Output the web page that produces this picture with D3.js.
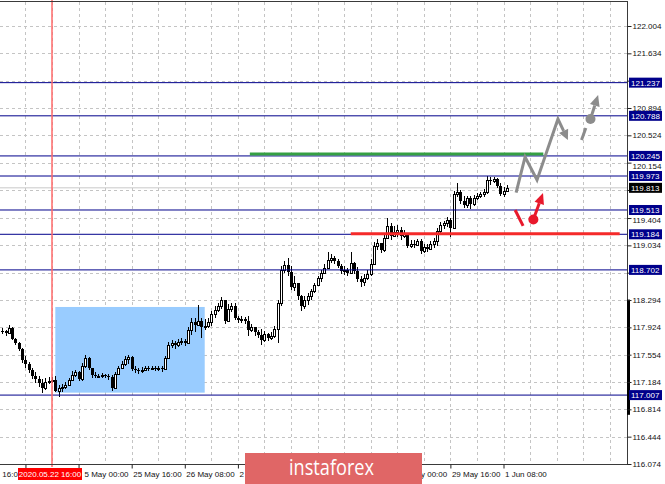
<!DOCTYPE html>
<html><head><meta charset="utf-8">
<script src="https://cdn.jsdelivr.net/npm/d3@7"></script>
<style>body{margin:0;background:#fff;overflow:hidden}svg{display:block;font-family:"Liberation Sans",Arial,sans-serif}</style>
</head><body><svg id="c" width="665" height="484"></svg>
<script>
// ---------- DATA ----------
const firstIndex = -15;          // candle index of first bar (0 = 2020.05.22 16:00, H1 bars)
const firstOpen = 117.88;
const closes = [
117.87,117.85,117.92,117.77,117.71,117.63,117.48,117.43,117.35,117.27,
117.23,117.17,117.10,117.18,117.20,117.21,117.06,117.10,117.12,117.14,
117.21,117.28,117.32,117.23,117.40,117.51,117.37,117.28,117.27,117.27,
117.28,117.27,117.25,117.10,117.29,117.37,117.43,117.50,117.52,117.36,
117.35,117.33,117.35,117.37,117.36,117.37,117.36,117.37,117.36,117.51,
117.69,117.71,117.69,117.73,117.74,117.71,117.89,118.00,117.96,118.01,
117.93,117.94,118.00,118.11,118.16,118.21,118.29,118.01,118.17,118.21,
118.05,118.02,118.04,118.01,117.89,117.93,117.86,117.82,117.75,117.83,
117.78,117.81,117.90,118.25,118.70,118.77,118.67,118.47,118.52,118.35,
118.21,118.29,118.35,118.42,118.50,118.59,118.66,118.73,118.84,118.86,
118.82,118.76,118.69,118.70,118.66,118.80,118.69,118.58,118.54,118.59,
118.65,118.78,119.03,119.07,118.97,119.13,119.30,119.16,119.22,119.24,
119.16,119.20,119.03,119.05,119.04,119.09,118.96,119.01,118.99,119.05,
119.09,119.23,119.31,119.34,119.38,119.27,119.73,119.76,119.63,119.58,
119.68,119.59,119.68,119.70,119.73,119.76,119.92,119.91,119.93,119.84,
119.73,119.77,119.81];
const highs = [
117.92,117.89,117.96,117.93,117.78,117.73,117.65,117.54,117.46,117.37,
117.32,117.27,117.23,117.24,117.25,117.25,117.27,117.14,117.16,117.19,
117.24,117.33,117.35,117.33,117.44,117.55,117.52,117.35,117.32,117.29,
117.31,117.29,117.29,117.28,117.32,117.40,117.47,117.54,117.55,117.54,
117.40,117.37,117.39,117.40,117.40,117.40,117.40,117.40,117.40,117.54,
117.73,117.75,117.74,117.77,117.78,117.77,117.93,118.05,118.05,118.23,
118.05,118.04,118.05,118.15,118.21,118.26,118.34,118.27,118.24,118.26,
118.26,118.08,118.08,118.07,118.08,117.97,117.93,117.89,117.90,117.87,
117.85,117.86,117.94,118.29,118.76,118.82,118.86,118.76,118.62,118.48,
118.36,118.35,118.39,118.44,118.53,118.62,118.70,118.78,118.95,118.92,
118.89,118.85,118.78,118.76,118.73,118.95,118.81,118.74,118.62,118.65,
118.70,118.85,119.08,119.12,119.05,119.17,119.41,119.34,119.30,119.31,
119.28,119.24,119.19,119.11,119.11,119.12,119.12,119.05,119.05,119.09,
119.13,119.27,119.35,119.37,119.42,119.41,119.77,119.88,119.78,119.70,
119.70,119.70,119.72,119.74,119.76,119.80,119.97,119.96,119.96,119.95,
119.88,119.82,119.85];
const lows = [
117.83,117.81,117.86,117.75,117.69,117.60,117.44,117.37,117.31,117.23,
117.17,117.12,117.04,117.08,117.16,117.17,117.05,116.98,117.05,117.09,
117.13,117.20,117.25,117.20,117.20,117.37,117.35,117.24,117.24,117.24,
117.24,117.24,117.21,117.06,117.09,117.28,117.36,117.40,117.43,117.33,
117.31,117.29,117.31,117.33,117.33,117.35,117.33,117.33,117.32,117.35,
117.50,117.65,117.63,117.66,117.69,117.67,117.70,117.82,117.86,117.94,
117.78,117.89,117.92,117.94,118.05,118.13,118.17,117.97,118.00,118.13,
118.02,117.98,117.98,117.97,117.81,117.86,117.81,117.78,117.69,117.73,
117.74,117.75,117.78,117.71,118.21,118.66,118.62,118.43,118.42,118.29,
118.15,118.17,118.23,118.29,118.39,118.48,118.54,118.65,118.72,118.80,
118.78,118.73,118.65,118.63,118.62,118.65,118.65,118.54,118.47,118.48,
118.57,118.62,118.77,118.97,118.93,118.95,119.13,119.11,119.16,119.15,
119.11,119.13,119.00,119.00,119.00,119.03,118.92,118.93,118.95,118.97,
119.00,119.03,119.20,119.26,119.28,119.15,119.26,119.69,119.59,119.54,
119.54,119.53,119.57,119.65,119.68,119.69,119.73,119.85,119.88,119.81,
119.70,119.69,119.78];

const timeTicks  = [-24,-8,8,24,40,56,72,88,104,120,136];
const timeLabels = ["21 May 16:00","22 May 08:00","25 May 00:00","25 May 16:00","26 May 08:00",
                    "27 May 00:00","27 May 16:00","28 May 08:00","29 May 00:00","29 May 16:00","1 Jun 08:00"];
const markerIndex = 0;
const markerLabel = "2020.05.22 16:00";

const priceTicks = [116.074,116.444,116.814,117.184,117.554,117.924,118.294,118.664,119.034,
                    119.404,119.784,120.154,120.524,120.894,121.264,121.634,122.004];
const levels = [121.237,120.788,120.245,119.973,119.513,119.184,118.702,117.007];
const bidPrice = 119.813;

const zone = [1, 46, 117.04, 118.20];          // [i0, i1, pLow, pHigh]
const greenLevel = [59.6, 148, 120.27];         // [i0, i1, price]
const redLevel = [90, 171, 119.19];
const grayZigzag = [[139.8,119.747],[142.5,120.231],[146.1,119.919],[152.4,120.745],[155.4,120.461]];
const grayDash = [[159.5,120.461],[160.8,120.623]];
const grayDot = [162.2,120.745];
const grayTip = [164.5,121.07];
const redDash = [[139.5,119.513],[141.9,119.297]];
const redDot = [145.0,119.385];
const redTip = [147.9,119.743];
const scaleBar = [118.30, 116.74];

// ---------- CHART ----------
const svg = d3.select("#c");
const plotR = 627, plotB = 464;
const x = d3.scaleLinear().domain([0,136]).range([52,503.5]);
const y = d3.scaleLinear().domain([116.074,122.004]).range([464,26]);

svg.append("rect").attr("width",665).attr("height",484).attr("fill","#fff");

// grid
const grid = svg.append("g").attr("stroke","#c4c4c4").attr("stroke-dasharray","3,3").attr("shape-rendering","crispEdges");
grid.selectAll("line.h").data(priceTicks).join("line").attr("class","h")
  .attr("x1",0).attr("x2",plotR).attr("y1",d=>Math.round(y(d))+0.5).attr("y2",d=>Math.round(y(d))+0.5);
grid.selectAll("line.v").data(d3.range(-16,176,8)).join("line").attr("class","v")
  .attr("x1",d=>Math.round(x(d))+0.5).attr("x2",d=>Math.round(x(d))+0.5).attr("y1",2).attr("y2",plotB);

// zone
svg.append("rect").attr("x",x(zone[0])).attr("width",x(zone[1])-x(zone[0]))
  .attr("y",y(zone[3])).attr("height",y(zone[2])-y(zone[3])).attr("fill","#99ccff");

// bid line
svg.append("line").attr("x1",0).attr("x2",plotR).attr("y1",y(bidPrice)).attr("y2",y(bidPrice))
  .attr("stroke","#c8c8c8").attr("stroke-width",1);

// candles
const candles = closes.map((c,k)=>{
  const o = k===0 ? firstOpen : closes[k-1];
  return {i:firstIndex+k, o, c, h:Math.max(highs[k],o,c), l:Math.min(lows[k],o,c)};
});
const cg = svg.append("g");
cg.selectAll("line").data(candles).join("line")
  .attr("x1",d=>Math.round(x(d.i))+0.5).attr("x2",d=>Math.round(x(d.i))+0.5)
  .attr("y1",d=>y(d.h)).attr("y2",d=>y(d.l)).attr("stroke","#000").attr("shape-rendering","crispEdges");
cg.selectAll("rect").data(candles).join("rect")
  .each(function(d){
    const cx = Math.round(x(d.i));
    const top = Math.round(y(Math.max(d.o,d.c))), bot = Math.round(y(Math.min(d.o,d.c)));
    const s = d3.select(this);
    if (d.c >= d.o) {
      s.attr("x",cx-0.5).attr("y",top+0.5).attr("width",2).attr("height",Math.max(bot-top,1))
       .attr("fill","#fff").attr("stroke","#000").attr("stroke-width",1);
    } else {
      s.attr("x",cx-1).attr("y",top).attr("width",3).attr("height",Math.max(bot-top,1)).attr("fill","#000");
    }
  });

// horizontal levels
svg.selectAll("line.lvl").data(levels).join("line").attr("class","lvl")
  .attr("x1",0).attr("x2",plotR).attr("y1",d=>y(d)).attr("y2",d=>y(d))
  .attr("stroke","#00008b").attr("stroke-width",1);

svg.append("line").attr("x1",x(greenLevel[0])).attr("x2",x(greenLevel[1]))
  .attr("y1",y(greenLevel[2])).attr("y2",y(greenLevel[2])).attr("stroke","#35a043").attr("stroke-width",3);
svg.append("line").attr("x1",x(redLevel[0])).attr("x2",x(redLevel[1]))
  .attr("y1",y(redLevel[2])).attr("y2",y(redLevel[2])).attr("stroke","#f52a2a").attr("stroke-width",3);

// vertical marker
svg.append("line").attr("x1",x(markerIndex)).attr("x2",x(markerIndex)).attr("y1",0).attr("y2",plotB+3)
  .attr("stroke","#ff6a6a").attr("stroke-width",1.5);

// annotations
const P = p => [x(p[0]), y(p[1])];
function arrowHead(g, from, tip, color, len, half){
  const [x1,y1]=P(from), [x2,y2]=P(tip);
  const a = Math.atan2(y2-y1, x2-x1);
  const bx = x2 - len*Math.cos(a), by = y2 - len*Math.sin(a);
  const pts = [[x2,y2],[bx+half*Math.sin(a), by-half*Math.cos(a)],[bx-half*Math.sin(a), by+half*Math.cos(a)]];
  g.append("polygon").attr("points",pts.map(p=>p.join(",")).join(" ")).attr("fill",color);
  return [bx,by];
}
const ann = svg.append("g");
const gray = "#8c8c8c", red = "#e8192c";
{
  const pts = grayZigzag.map(P);
  const base = arrowHead(ann, grayZigzag[3], grayZigzag[4], gray, 10, 5);
  pts[pts.length-1] = base;
  ann.append("path").attr("d",d3.line()(pts)).attr("fill","none").attr("stroke",gray).attr("stroke-width",3).attr("stroke-linejoin","miter");
}
ann.append("path").attr("d",d3.line()(grayDash.map(P))).attr("stroke",gray).attr("stroke-width",3);
ann.append("circle").attr("cx",P(grayDot)[0]).attr("cy",P(grayDot)[1]).attr("r",5).attr("fill",gray);
{
  const base = arrowHead(ann, grayDot, grayTip, gray, 11, 5);
  ann.append("line").attr("x1",P(grayDot)[0]).attr("y1",P(grayDot)[1]).attr("x2",base[0]).attr("y2",base[1]).attr("stroke",gray).attr("stroke-width",3);
}
ann.append("path").attr("d",d3.line()(redDash.map(P))).attr("stroke",red).attr("stroke-width",3);
ann.append("circle").attr("cx",P(redDot)[0]).attr("cy",P(redDot)[1]).attr("r",5).attr("fill",red);
{
  const base = arrowHead(ann, redDot, redTip, red, 11, 5);
  ann.append("line").attr("x1",P(redDot)[0]).attr("y1",P(redDot)[1]).attr("x2",base[0]).attr("y2",base[1]).attr("stroke",red).attr("stroke-width",3);
}

// frame
const frame = svg.append("g").attr("stroke","#3a3a3a").attr("shape-rendering","crispEdges");
frame.append("line").attr("x1",0).attr("x2",plotR+0.5).attr("y1",1.5).attr("y2",1.5);
frame.append("line").attr("x1",plotR+0.5).attr("x2",plotR+0.5).attr("y1",1).attr("y2",plotB+0.5);
frame.append("line").attr("x1",0).attr("x2",plotR+0.5).attr("y1",plotB+0.5).attr("y2",plotB+0.5);
svg.append("rect").attr("x",plotR).attr("width",3).attr("y",y(scaleBar[0])).attr("height",y(scaleBar[1])-y(scaleBar[0])).attr("fill","#000");

// level label set (used to hide/nudge price ticks that sit underneath a label box)
const allLabels = levels.map(v=>({v,bg:"#00008b"})).concat([{v:bidPrice,bg:"#000"}]);

// right axis
const yAxis = d3.axisRight(y).tickValues(priceTicks).tickFormat(d3.format(".3f")).tickSize(4).tickSizeOuter(0);
const ya = svg.append("g").attr("transform",`translate(${plotR+0.5},0)`).call(yAxis);
ya.select(".domain").remove();
ya.selectAll("line").attr("stroke","#222");
ya.selectAll("text").attr("x",5).attr("font-size","8px").attr("font-family","Liberation Sans, Arial").attr("fill","#111");
ya.selectAll(".tick text").filter(d => allLabels.some(l => Math.abs(y(l.v)-y(d)) < 5)).remove();
ya.selectAll(".tick text").each(function(d){
  let shift = 0;
  allLabels.forEach(l => {
    const diff = y(d) - y(l.v);
    if (diff > 0 && diff < 9.6) shift = Math.max(shift, 9.6 - diff);
  });
  if (shift) d3.select(this).attr("y", shift);
});

// bottom axis
const xAxis = d3.axisBottom(x).tickValues(timeTicks).tickFormat((d,k)=>timeLabels[k]).tickSize(4).tickSizeOuter(0);
const xa = svg.append("g").attr("transform",`translate(0,${plotB+0.5})`).call(xAxis);
xa.select(".domain").remove();
xa.selectAll("line").attr("stroke","#222");
xa.selectAll("text").attr("text-anchor","start").attr("x",1).attr("y",7).attr("font-size","8px")
  .attr("font-family","Liberation Sans, Arial").attr("fill","#111");

// level labels
const lab = svg.append("g");
lab.selectAll("rect").data(allLabels).join("rect")
  .attr("x",plotR+2).attr("y",d=>y(d.v)-5).attr("width",33).attr("height",10).attr("fill",d=>d.bg);
lab.selectAll("text").data(allLabels).join("text")
  .attr("x",plotR+4).attr("y",d=>y(d.v)+3).text(d=>d3.format(".3f")(d.v))
  .attr("font-size","8px").attr("fill","#fff");

// marker date label
const mx = x(markerIndex);
const markBox = [mx-34, mx+30];
svg.append("rect").attr("x",markBox[0]).attr("y",plotB+4).attr("width",markBox[1]-markBox[0]).attr("height",12).attr("fill","#ff0000");
svg.append("text").attr("x",(markBox[0]+markBox[1])/2).attr("y",plotB+13).attr("text-anchor","middle").text(markerLabel)
  .attr("font-size","8px").attr("fill","#fff");

// watermark
const wm = [245, 422];
svg.append("rect").attr("x",wm[0]).attr("y",453).attr("width",wm[1]-wm[0]).attr("height",31).attr("fill","#e06666");
svg.append("text").attr("x",289).attr("y",475).text("instaforex")
  .attr("font-family","Open Sans, sans-serif").attr("font-size","22px").attr("fill","#fff")
  .attr("textLength",85).attr("lengthAdjust","spacingAndGlyphs");

// time labels: keep only the part that is visible beside the date box / watermark / left edge
const obstacles = [[-1e9,0], markBox, wm];
xa.selectAll(".tick").each(function(d){
  const t = d3.select(this).select("text"), node = t.node(), full = node.textContent, n = full.length;
  const gx = x(d) + 1;
  const w = [0];
  for (let k=1;k<=n;k++) w.push(node.getSubStringLength(0,k));
  const vis = [];
  for (let k=0;k<n;k++){ const c = gx + (w[k]+w[k+1])/2; vis.push(obstacles.every(([a,b]) => c < a || c > b)); }
  let best = [0,-1], s = -1;
  for (let k=0;k<=n;k++){
    if (k<n && vis[k]) { if (s<0) s = k; }
    else if (s>=0) { if (k-1-s > best[1]-best[0]) best = [s,k-1]; s = -1; }
  }
  let [a,b] = best;
  while (a<=b && full[a]===" ") a++;
  while (b>=a && full[b]===" ") b--;
  if (b<a) { t.remove(); return; }
  t.text(full.slice(a,b+1)).attr("x", 1 + w[a]);
});
</script>
</body></html>
